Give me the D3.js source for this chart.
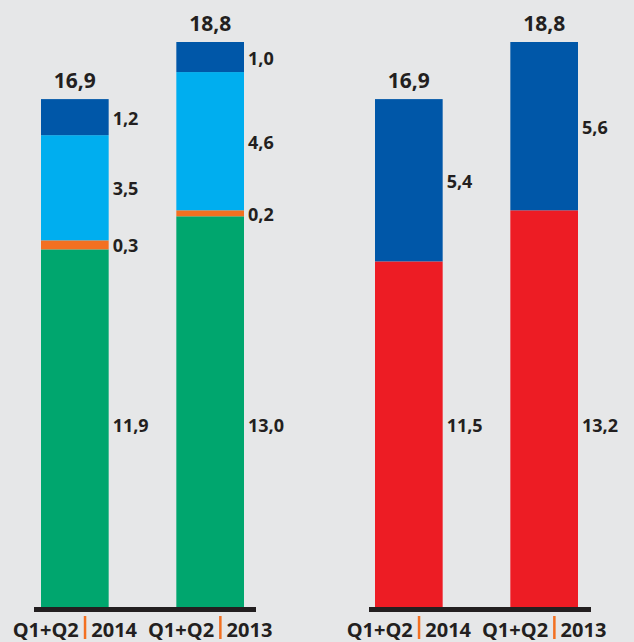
<!DOCTYPE html>
<html>
<head>
<meta charset="utf-8">
<script src="https://cdn.jsdelivr.net/npm/d3@7"></script>
<style>
  html, body { margin: 0; padding: 0; background: #e6e7e8; }
  svg { display: block; }
  text { font-family: "Open Sans", "DejaVu Sans", sans-serif; font-weight: 700; fill: #231f20; }
</style>
</head>
<body>
<script>
// ---- data ----
const periods = ["Q1+Q2", "Q1+Q2"];
const years = ["2014", "2013"];

// left panel: stacked segments, bottom to top
const leftSeries = ["green", "orange", "lightblue", "darkblue"];
const leftValues = [
  [11.9, 0.3, 3.5, 1.2],   // 2014
  [13.0, 0.2, 4.6, 1.0]    // 2013
];
const leftTotals = [16.9, 18.8];

// right panel: stacked segments, bottom to top
const rightSeries = ["red", "blue"];
const rightValues = [
  [11.5, 5.4],   // 2014
  [13.2, 5.6]    // 2013
];
const rightTotals = [16.9, 18.8];

// ---- styles ----
const colors = {
  green: "#00a66e",
  orange: "#f37021",
  lightblue: "#00aeef",
  darkblue: "#0057a8",
  red: "#ed1c24",
  blue: "#0057a8"
};
const fmt = v => d3.format(".1f")(v).replace(".", ",");

const W = 634, H = 642;
const svg = d3.select("body").append("svg").attr("width", W).attr("height", H);

const y = d3.scaleLinear().domain([0, 18.8]).range([607, 42]);
const bottomLabelValue = 6.05;

function panel(x0, x1, axisX0, axisX1, series, values, totals) {
  const keys = years.map((yr, i) => yr + i);
  const x = d3.scaleBand().domain(keys).range([x0, x1]).paddingInner(0.5).paddingOuter(0);
  const g = svg.append("g");

  keys.forEach((k, i) => {
    const rows = [Object.fromEntries(series.map((s, j) => [s, values[i][j]]))];
    const stacked = d3.stack().keys(series)(rows);
    const bx = x(k), bw = x.bandwidth();

    stacked.forEach((layer, li) => {
      const d = layer[0];
      g.append("rect")
        .attr("x", bx).attr("width", bw)
        .attr("y", y(d[1])).attr("height", y(d[0]) - y(d[1]))
        .attr("fill", colors[series[li]]);
      const cy = li === 0 ? y(bottomLabelValue) : (y(d[0]) + y(d[1])) / 2 + 1;
      g.append("text")
        .attr("x", bx + bw + 4).attr("y", cy).attr("dy", "0.36em")
        .attr("font-size", 18)
        .text(fmt(d[1] - d[0]));
    });

    g.append("text")
      .attr("x", bx + bw / 2).attr("y", y(totals[i]) - 11)
      .attr("text-anchor", "middle").attr("font-size", 21)
      .text(fmt(totals[i]));

    // category label: "Q1+Q2 | year"
    const cx = bx + bw / 2;
    const lg = g.append("g");
    const t1 = lg.append("text").attr("y", 637).attr("font-size", 20).text(periods[i]);
    const t2 = lg.append("text").attr("y", 637).attr("font-size", 20).text(years[i]);
    const w1 = t1.node().getComputedTextLength();
    const w2 = t2.node().getComputedTextLength();
    const gap = 5, sepW = 2.5;
    const total = w1 + gap + sepW + gap + w2;
    const start = cx - total / 2;
    t1.attr("x", start);
    lg.append("rect").attr("x", start + w1 + gap).attr("y", 616).attr("width", sepW).attr("height", 23)
      .attr("fill", colors.orange);
    t2.attr("x", start + w1 + gap + sepW + gap);
  });

  g.append("rect")
    .attr("x", axisX0).attr("y", 607).attr("width", axisX1 - axisX0).attr("height", 5)
    .attr("fill", "#231f20");
}

panel(41, 244, 34, 256, leftSeries, leftValues, leftTotals);
panel(375, 578, 369, 591, rightSeries, rightValues, rightTotals);
</script>
</body>
</html>
